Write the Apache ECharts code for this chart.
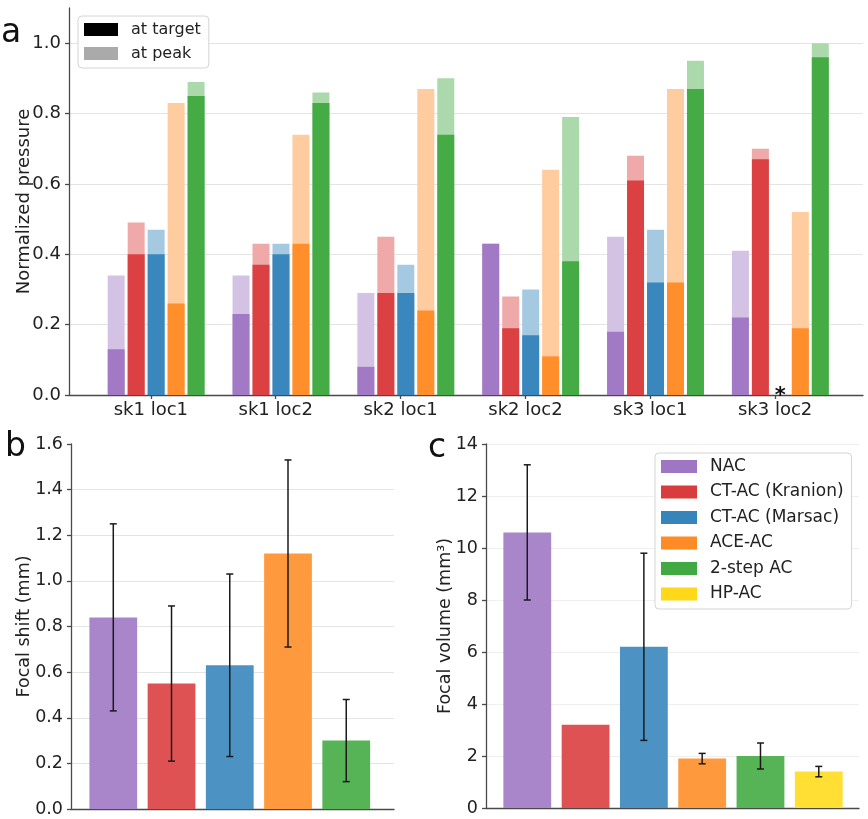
<!DOCTYPE html>
<html><head><meta charset="utf-8">
<script src="https://cdn.jsdelivr.net/npm/echarts@6/dist/echarts.min.js"></script>
<style>html,body{margin:0;padding:0;background:#fff}#chart{width:868px;height:819px}</style>
</head><body><div id="chart"></div>
<script>
// ---------------- DATA ----------------
const categories = ['sk1 loc1', 'sk1 loc2', 'sk2 loc1', 'sk2 loc2', 'sk3 loc1', 'sk3 loc2'];
const methods = ['NAC', 'CT-AC (Kranion)', 'CT-AC (Marsac)', 'ACE-AC', '2-step AC', 'HP-AC'];
const pressureLegend = ['at target', 'at peak'];

const nacTarget      = [0.13, 0.23, 0.08, 0.43, 0.18, 0.22];
const nacPeak        = [0.34, 0.34, 0.29, 0.43, 0.45, 0.41];
const kranionTarget  = [0.40, 0.37, 0.29, 0.19, 0.61, 0.67];
const kranionPeak    = [0.49, 0.43, 0.45, 0.28, 0.68, 0.70];
const marsacTarget   = [0.40, 0.40, 0.29, 0.17, 0.32, null];
const marsacPeak     = [0.47, 0.43, 0.37, 0.30, 0.47, null];
const aceTarget      = [0.26, 0.43, 0.24, 0.11, 0.32, 0.19];
const acePeak        = [0.83, 0.74, 0.87, 0.64, 0.87, 0.52];
const twoStepTarget  = [0.85, 0.83, 0.74, 0.38, 0.87, 0.96];
const twoStepPeak    = [0.89, 0.86, 0.90, 0.79, 0.95, 1.00];

const missingCategory = 5;   // sk3 loc2
const missingMethod = 2;     // CT-AC (Marsac)
const missingMark = '*';

const shiftMean = [0.84, 0.55, 0.63, 1.12, 0.30];
const shiftErr  = [0.41, 0.34, 0.40, 0.41, 0.18];

const volumeMean = [10.6, 3.2, 6.2, 1.9, 2.0, 1.4];
const volumeErr  = [2.6, null, 3.6, 0.2, 0.5, 0.2];

const pressureTicks = [0, 0.2, 0.4, 0.6, 0.8, 1.0];
const categoryTicks = [0, 1, 2, 3, 4, 5];

// ---------------- STYLE ----------------
const FONT = 'DejaVu Sans';
const TXT = '#222';
const AXIS = '#4a4a4a';
const GRIDC = '#e4e4e4';
const targetColors = ['#a179c5', '#db4142', '#3a87bd', '#ff8e2b', '#45ab45'];
const peakColors   = ['#d4c2e5', '#efa9a9', '#a5c9e1', '#ffcc9f', '#abd9ab'];
const fillColors   = ['#a985ca', '#de5253', '#4c92c3', '#ff993e', '#56b356', '#ffdf33'];
const legendColors = ['#9f76c4', '#d83c3d', '#3585bb', '#ff8b26', '#41a941', '#ffd819'];
const groupOffset = -0.278, groupPitch = 0.16, barWA = 0.136, barWBC = 0.82;

const targets = [nacTarget, kranionTarget, marsacTarget, aceTarget, twoStepTarget];
const peaks = [nacPeak, kranionPeak, marsacPeak, acePeak, twoStepPeak];

function pressureSeries(m) {
  return {
    type: 'custom', name: 'pressure-' + m, xAxisIndex: 0, yAxisIndex: 0, silent: true, z: 3,
    data: categories.map((c, i) => [i + groupOffset + m * groupPitch, targets[m][i], peaks[m][i]])
                    .filter(d => d[1] != null),
    encode: { x: 0, y: [1, 2] },
    renderItem: (params, api) => {
      const x = api.value(0), t = api.value(1), p = api.value(2);
      const w = api.size([barWA, 0])[0];
      const b = api.coord([x, 0]), tp = api.coord([x, p]), tt = api.coord([x, t]);
      return { type: 'group', children: [
        { type: 'rect', shape: { x: b[0] - w / 2, y: tp[1], width: w, height: b[1] - tp[1] }, style: { fill: peakColors[m] } },
        { type: 'rect', shape: { x: b[0] - w / 2, y: tt[1], width: w, height: b[1] - tt[1] }, style: { fill: targetColors[m] } }
      ]};
    }
  };
}

function barSeries(idx, means) {
  return {
    type: 'custom', name: 'bars-' + idx, xAxisIndex: idx, yAxisIndex: idx, silent: true, z: 3,
    data: means.map((v, i) => [i, v]),
    encode: { x: 0, y: 1 },
    renderItem: (params, api) => {
      const x = api.value(0), v = api.value(1);
      const w = api.size([barWBC, 0])[0];
      const b = api.coord([x, 0]), t = api.coord([x, v]);
      return { type: 'rect', shape: { x: b[0] - w / 2, y: t[1], width: w, height: b[1] - t[1] },
               style: { fill: fillColors[params.dataIndex] } };
    }
  };
}

function errSeries(idx, means, errs) {
  return {
    type: 'custom', name: 'err-' + idx, xAxisIndex: idx, yAxisIndex: idx, silent: true, z: 5,
    data: means.map((v, i) => errs[i] == null ? null : [i, v - errs[i], v + errs[i]]).filter(d => d),
    encode: { x: 0, y: [1, 2] },
    renderItem: (params, api) => {
      const x = api.value(0);
      const lo = api.coord([x, api.value(1)]), hi = api.coord([x, api.value(2)]);
      const cap = 3.5;
      const st = { stroke: '#1a1a1a', lineWidth: 1.5 };
      return { type: 'group', children: [
        { type: 'line', shape: { x1: lo[0], y1: lo[1], x2: hi[0], y2: hi[1] }, style: st },
        { type: 'line', shape: { x1: hi[0] - cap, y1: hi[1], x2: hi[0] + cap, y2: hi[1] }, style: st },
        { type: 'line', shape: { x1: lo[0] - cap, y1: lo[1], x2: lo[0] + cap, y2: lo[1] }, style: st }
      ]};
    }
  };
}

const axisLineStyle = { color: AXIS, width: 1.3 };
function yAxisDef(idx, min, max, interval, name, nameGap, fs, fmt, extra) {
  return Object.assign({
    gridIndex: idx, type: 'value', min: min, max: max, interval: interval,
    name: name, nameLocation: 'middle', nameRotate: 90, nameGap: nameGap, nameMoveOverlap: false,
    nameTextStyle: { fontFamily: FONT, fontSize: fs, color: TXT },
    axisLine: { show: true, onZero: false, lineStyle: axisLineStyle },
    axisTick: { show: true, length: 4, lineStyle: axisLineStyle },
    axisLabel: { fontFamily: FONT, fontSize: fs, color: TXT, margin: 8, formatter: fmt },
    splitLine: { show: true, showMinLine: false, showMaxLine: false, lineStyle: { color: GRIDC, width: 1 } }
  }, extra || {});
}
function xAxisPlain(idx, min, max) {
  return { gridIndex: idx, type: 'value', min: min, max: max,
    axisLine: { show: true, onZero: false, lineStyle: axisLineStyle },
    axisTick: { show: false }, axisLabel: { show: false }, splitLine: { show: false } };
}

const option = {
  backgroundColor: '#fff',
  animation: false,
  grid: [
    { left: 69, right: 5, top: 8, bottom: 424, outerBoundsMode: 'none', containLabel: false },
    { left: 71, right: 474, top: 444, bottom: 10, outerBoundsMode: 'none', containLabel: false },
    { left: 486, right: 9, top: 444, bottom: 11, outerBoundsMode: 'none', containLabel: false }
  ],
  xAxis: [
    { gridIndex: 0, type: 'value', min: -0.656, max: 5.704,
      axisLine: { show: true, onZero: false, lineStyle: axisLineStyle },
      axisTick: { show: true, length: 4, customValues: categoryTicks, lineStyle: axisLineStyle },
      axisLabel: { customValues: categoryTicks, fontFamily: FONT, fontSize: 18, color: TXT, margin: 6,
        formatter: v => { const i = Math.round(v); return (Math.abs(v - i) < 1e-6 && categories[i]) ? categories[i] : ''; } },
      splitLine: { show: false } },
    xAxisPlain(1, -0.726, 4.82),
    xAxisPlain(2, -0.708, 5.69)
  ],
  yAxis: [
    yAxisDef(0, 0, 1.1, 0.2, 'Normalized pressure', 36, 18, v => v.toFixed(1), {
      axisTick: { show: true, length: 4, customValues: pressureTicks, lineStyle: axisLineStyle },
      axisLabel: { customValues: pressureTicks, fontFamily: FONT, fontSize: 18, color: TXT, margin: 8, formatter: v => v.toFixed(1) },
      splitLine: { show: true, showMinLine: false, showMaxLine: true, lineStyle: { color: GRIDC, width: 1 } }
    }),
    yAxisDef(1, 0, 1.6, 0.2, 'Focal shift (mm)', 38, 17.5, v => v.toFixed(1)),
    yAxisDef(2, 0, 14, 2, 'Focal volume (mm³)', 32, 17.5, v => String(v), {
      splitLine: { show: true, showMinLine: false, showMaxLine: true, lineStyle: { color: '#efefef', width: 1 } }
    })
  ],
  legend: [
    { data: pressureLegend, orient: 'vertical', left: 78, top: 16, icon: 'rect',
      itemWidth: 34, itemHeight: 13, itemGap: 8, padding: [5.5, 8, 6.5, 6],
      borderColor: '#d4d4d4', borderWidth: 1, borderRadius: 4, backgroundColor: '#fff',
      selectedMode: false,
      textStyle: { fontFamily: FONT, fontSize: 16, color: TXT, lineHeight: 16, padding: [0, 0, 0, 8] } },
    { data: methods, orient: 'vertical', left: 655, top: 453, icon: 'rect',
      itemWidth: 36, itemHeight: 13, itemGap: 8.5, padding: [5, 8, 6.5, 6],
      borderColor: '#d4d4d4', borderWidth: 1, borderRadius: 4, backgroundColor: 'rgba(255,255,255,0.9)',
      selectedMode: false,
      textStyle: { fontFamily: FONT, fontSize: 17, color: TXT, lineHeight: 17, padding: [0, 0, 0, 8] } }
  ],
  graphic: [
    { type: 'text', x: 1, y: 33, z: 100, style: { text: 'a', font: '33px "DejaVu Sans"', fill: '#111', verticalAlign: 'middle' } },
    { type: 'text', x: 5, y: 447, z: 100, style: { text: 'b', font: '33px "DejaVu Sans"', fill: '#111', verticalAlign: 'middle' } },
    { type: 'text', x: 428, y: 448, z: 100, style: { text: 'c', font: '33px "DejaVu Sans"', fill: '#111', verticalAlign: 'middle' } }
  ],
  series: [
    ...[0, 1, 2, 3, 4].map(pressureSeries),
    { type: 'custom', name: 'missing', xAxisIndex: 0, yAxisIndex: 0, silent: true, z: 6,
      data: [[missingCategory + groupOffset + missingMethod * groupPitch, 0]],
      encode: { x: 0, y: 1 },
      renderItem: (params, api) => {
        const p = api.coord([api.value(0), api.value(1)]);
        return { type: 'text', x: p[0], y: p[1] + 12,
          style: { text: missingMark, font: 'bold 21px "DejaVu Sans"', fill: '#111', align: 'center', verticalAlign: 'bottom' } };
      } },
    barSeries(1, shiftMean),
    errSeries(1, shiftMean, shiftErr),
    barSeries(2, volumeMean),
    errSeries(2, volumeMean, volumeErr),
    { type: 'bar', name: 'at target', xAxisIndex: 0, yAxisIndex: 0, data: [], itemStyle: { color: '#000' } },
    { type: 'bar', name: 'at peak', xAxisIndex: 0, yAxisIndex: 0, data: [], itemStyle: { color: '#aaaaaa' } },
    ...methods.map((n, k) => ({ type: 'bar', name: n, xAxisIndex: 2, yAxisIndex: 2, data: [], itemStyle: { color: legendColors[k] } }))
  ]
};

const chart = echarts.init(document.getElementById('chart'), null, { renderer: 'canvas' });
chart.setOption(option);
</script>
</body></html>
